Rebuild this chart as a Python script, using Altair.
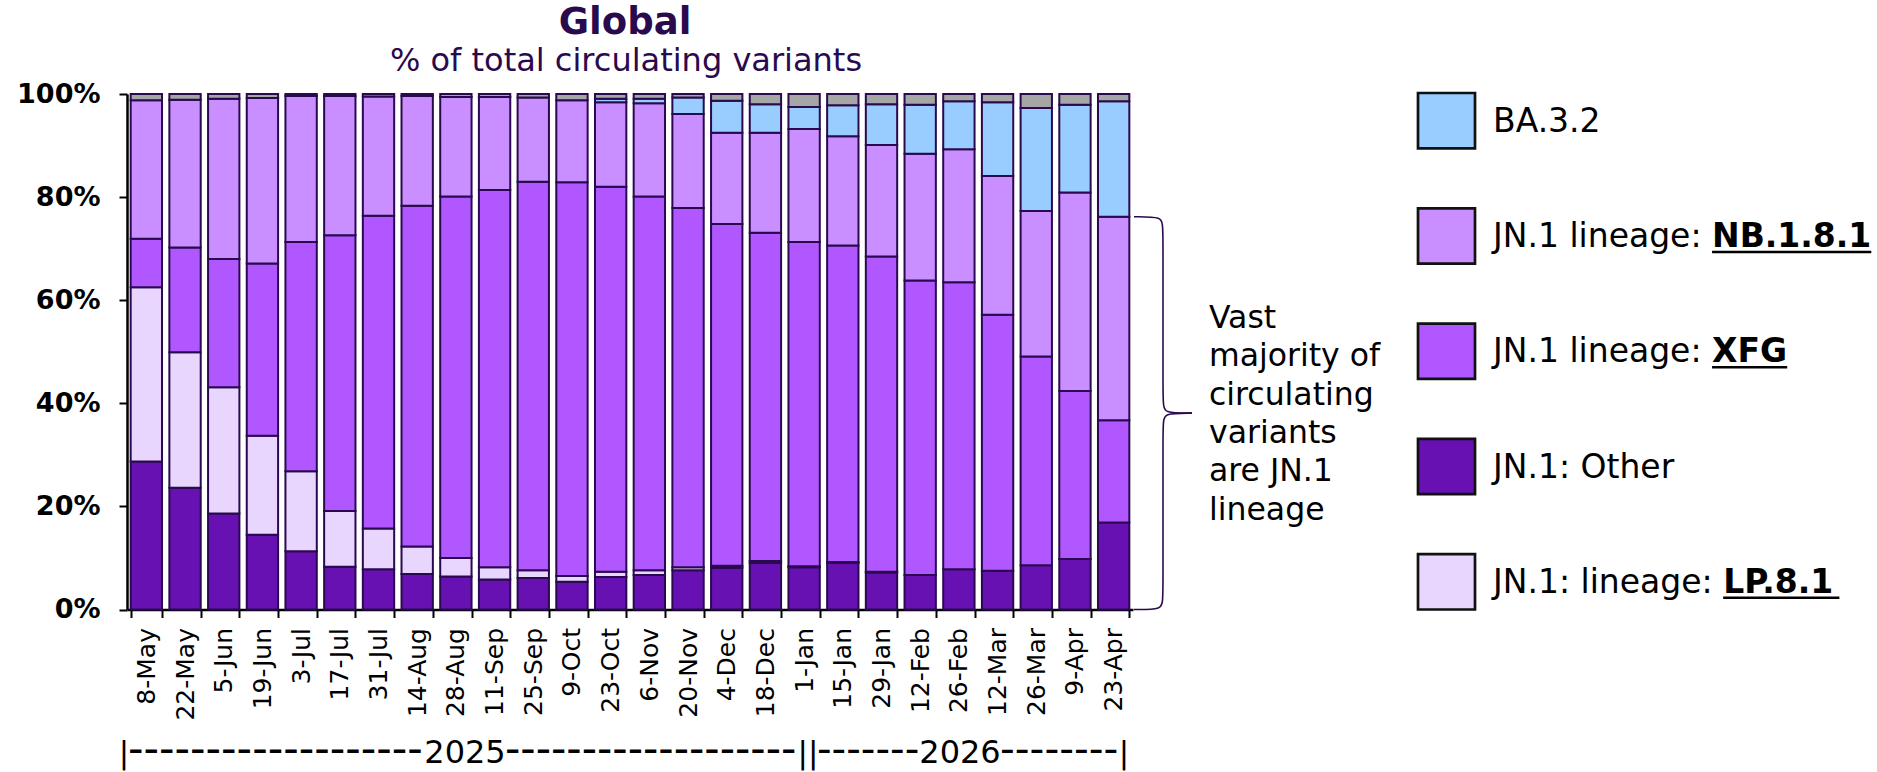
import altair as alt
import pandas as pd

# ---------------------------------------------------------------- data
dates = ["8-May", "22-May", "5-Jun", "19-Jun", "3-Jul", "17-Jul", "31-Jul",
         "14-Aug", "28-Aug", "11-Sep", "25-Sep", "9-Oct", "23-Oct", "6-Nov",
         "20-Nov", "4-Dec", "18-Dec", "1-Jan", "15-Jan", "29-Jan", "12-Feb",
         "26-Feb", "12-Mar", "26-Mar", "9-Apr", "23-Apr"]

# share of circulating variants (%), listed from the bottom of each stack up
jn1_other = [28.7, 23.6, 18.6, 14.5, 11.3, 8.3, 7.8, 6.9, 6.4, 5.8, 6.1, 5.4, 6.3,
             6.7, 7.6, 8.1, 9.0, 8.2, 9.0, 7.2, 6.7, 7.8, 7.5, 8.6, 9.8, 16.9]
lp_8_1 = [33.8, 26.3, 24.5, 19.2, 15.5, 10.8, 7.9, 5.3, 3.6, 2.4, 1.5, 1.1, 1.0,
          0.9, 0.6, 0.4, 0.4, 0.2, 0.2, 0.1, 0.0, 0.0, 0.0, 0.0, 0.0, 0.0]
xfg = [9.4, 20.3, 24.9, 33.4, 44.5, 53.5, 60.7, 66.1, 70.1, 73.2, 75.4, 76.4, 74.7,
       72.5, 69.7, 66.3, 63.7, 62.9, 61.4, 61.2, 57.1, 55.7, 49.7, 40.5, 32.6, 19.8]
nb_1_8_1 = [26.9, 28.7, 31.1, 32.1, 28.3, 27.0, 23.1, 21.3, 19.3, 18.0, 16.3, 15.9,
            16.4, 18.1, 18.2, 17.7, 19.4, 21.9, 21.2, 21.6, 24.6, 25.8, 26.9, 28.2,
            38.5, 39.5]
ba_3_2 = [0.0, 0.0, 0.0, 0.0, 0.0, 0.0, 0.0, 0.0, 0.0, 0.0, 0.0, 0.0, 0.7, 0.9,
          3.2, 6.2, 5.5, 4.3, 6.0, 7.9, 9.5, 9.3, 14.3, 20.0, 17.0, 22.4]
other = [1.2, 1.1, 0.9, 0.8, 0.4, 0.4, 0.5, 0.4, 0.6, 0.6, 0.7, 1.2, 0.9, 0.9, 0.7,
         1.3, 2.0, 2.5, 2.2, 2.0, 2.1, 1.4, 1.6, 2.7, 2.1, 1.4]

series_names = ["JN.1: Other", "JN.1: lineage: LP.8.1", "JN.1 lineage: XFG",
                "JN.1 lineage: NB.1.8.1", "BA.3.2", "Other"]
series_values = [jn1_other, lp_8_1, xfg, nb_1_8_1, ba_3_2, other]
series_colors = ["#6711b3", "#e8d6ff", "#b057ff", "#c98eff", "#99ccff", "#a6a6a6"]

legend_items = ["BA.3.2", "JN.1 lineage: NB.1.8.1", "JN.1 lineage: XFG",
                "JN.1: Other", "JN.1: lineage: LP.8.1"]
legend_plain = ["BA.3.2", "JN.1 lineage: ", "JN.1 lineage: ", "JN.1: Other",
                "JN.1: lineage: "]
legend_bold = ["", "NB.1.8.1", "XFG", "", "LP.8.1"]

note_lines = ["Vast", "majority of", "circulating", "variants", "are JN.1", "lineage"]

# ---------------------------------------------------------------- layout
LEFT, TOP = 127, 94          # plot origin inside the 1877 x 772 page
PLOT_W, PLOT_H = 1750, 515.5
BAR_SPAN = 1006              # horizontal extent of the category axis
INK = "#2a0a4e"
FONT = "DejaVu Sans"
LEG_SIZE = 33

# advance widths (em) of DejaVu Sans, used to place the bold part of a legend label
REG_W = {"J": 0.295, "N": 0.748, ".": 0.318, "1": 0.636, " ": 0.318, "l": 0.278,
         "i": 0.278, "n": 0.634, "e": 0.615, "a": 0.613, "g": 0.635, ":": 0.337}
BOLD_W = {"N": 0.837, "B": 0.760, ".": 0.380, "1": 0.696, "8": 0.696, "X": 0.774,
          "F": 0.683, "G": 0.821, "L": 0.637, "P": 0.733}


def text_width(s, table, size):
    return sum(table.get(c, 0.6) for c in s) * size


# ---------------------------------------------------------------- tables
rows = []
for rank, (name, vals) in enumerate(zip(series_names, series_values)):
    for d, v in zip(dates, vals):
        if v > 0:
            rows.append({"date": d, "series": name, "value": v, "rank": rank})
bars_df = pd.DataFrame(rows)

color_scale = alt.Scale(domain=series_names, range=series_colors)

LEG_X = 1291
TXT_X = LEG_X + 75
leg_rows = []
for item, plain, bold in zip(legend_items, legend_plain, legend_bold):
    bx = TXT_X + text_width(plain, REG_W, LEG_SIZE)
    leg_rows.append({"series": item, "plain": plain, "bold": bold, "bx": bx,
                     "bx2": bx + text_width(bold, BOLD_W, LEG_SIZE)})
leg_df = pd.DataFrame(leg_rows)

# curly brace spanning the JN.1 lineage total of the latest week
jn1_total = jn1_other[-1] + lp_8_1[-1] + xfg[-1] + nb_1_8_1[-1]
mid = jn1_total / 2
r = 1.8
x0, x1, x2 = 1007, 1036, 1065
brace_pts = [
    (0, x0, jn1_total), (0, x1, jn1_total), (0, x1, jn1_total - r),
    (0, x1, mid + r), (0, x1, mid), (0, x2, mid),
    (1, x2, mid), (1, x1, mid), (1, x1, mid - r),
    (1, x1, r), (1, x1, 0.0), (1, x0, 0.0),
]
brace_df = pd.DataFrame([{"half": h, "px": px, "v": v, "seq": i}
                         for i, (h, px, v) in enumerate(brace_pts)])

one = pd.DataFrame({"k": [0]})

# ---------------------------------------------------------------- bars
bars = alt.Chart(bars_df).mark_bar(stroke=INK, strokeWidth=2).encode(
    x=alt.X("date:N", sort=dates,
            scale=alt.Scale(range=[0, BAR_SPAN], paddingInner=0.19, paddingOuter=0.095),
            axis=alt.Axis(title=None, labelAngle=-90, labelFontSize=25, labelFont=FONT,
                          labelColor="black", labelPadding=10, tickBand="extent",
                          tickSize=8, tickWidth=2, tickColor="black",
                          domainColor="black", domainWidth=2.5, grid=False,
                          labelOverlap=False)),
    y=alt.Y("value:Q", stack="zero", scale=alt.Scale(domain=[0, 100], nice=False),
            axis=alt.Axis(title=None, values=[0, 20, 40, 60, 80, 100],
                          labelExpr="datum.value + '%'", labelFontSize=27,
                          labelFont=FONT, labelFontWeight="bold", labelColor="black",
                          labelPadding=19, tickSize=8, tickWidth=2, tickColor="black",
                          domainColor="black", domainWidth=2.5, grid=False)),
    color=alt.Color("series:N", scale=color_scale, legend=None),
    order=alt.Order("rank:Q", sort="ascending"),
)

# ---------------------------------------------------------------- brace
brace = alt.Chart(brace_df).mark_line(interpolate="basis", stroke=INK,
                                      strokeWidth=1.6).encode(
    x=alt.X("px:Q", scale=None, axis=None),
    y=alt.Y("v:Q", scale=alt.Scale(domain=[0, 100], nice=False), axis=None),
    detail="half:N",
    order="seq:Q",
)

# ---------------------------------------------------------------- legend
leg_y = alt.Y("series:N", sort=legend_items,
              scale=alt.Scale(domain=legend_items, range=[-1, 515.5],
                              paddingInner=0.52, paddingOuter=0),
              axis=None)
leg_boxes = alt.Chart(leg_df).mark_rect(stroke="#111111", strokeWidth=2.7).encode(
    x=alt.value(LEG_X), x2=alt.value(LEG_X + 57), y=leg_y,
    color=alt.Color("series:N", scale=color_scale, legend=None),
)
leg_plain = alt.Chart(leg_df).mark_text(
    align="left", baseline="alphabetic", dy=11, font=FONT, fontSize=LEG_SIZE,
    color="black").encode(x=alt.value(TXT_X), y=leg_y, text="plain:N")
bold_df = leg_df[leg_df["bold"] != ""]
leg_bold = alt.Chart(bold_df).mark_text(
    align="left", baseline="alphabetic", dy=11, font=FONT, fontSize=LEG_SIZE,
    fontWeight="bold", color="black").encode(
    x=alt.X("bx:Q", scale=None, axis=None), y=leg_y, text="bold:N")
leg_under = alt.Chart(bold_df).mark_rule(color="black", strokeWidth=2.5,
                                         yOffset=16).encode(
    x=alt.X("bx:Q", scale=None, axis=None), x2="bx2:Q", y=leg_y)
legend = alt.layer(leg_boxes, leg_plain, leg_bold, leg_under)

# ---------------------------------------------------------------- texts
def label(text, x, y, size, weight="normal", align="center", color="black",
          font=FONT, **kw):
    return alt.Chart(one).mark_text(
        text=text, align=align, baseline="alphabetic", font=font, fontSize=size,
        fontWeight=weight, color=color, **kw).encode(x=alt.value(x), y=alt.value(y))


title = label("Global", 498, -60, 37, weight="bold", color=INK)
subtitle = label("% of total circulating variants", 499, -23, 32, color=INK)
note = label(note_lines, 1082, 234, 31.5, align="left", lineHeight=38.3)

# year band under the date labels; hyphen runs use a larger size so they
# stretch across the same width as the year they frame
YEAR_Y = 669
year_parts = [
    label("|", -3, YEAR_Y, 31),
    label("-" * 19, 1, YEAR_Y, 43, align="left"),
    label("2025", 338, YEAR_Y, 32),
    label("-" * 19, 378, YEAR_Y, 42.5, align="left"),
    label("||", 681, YEAR_Y, 31),
    label("-" * 7, 690, YEAR_Y, 40.5, align="left"),
    label("2026", 833, YEAR_Y, 32),
    label("-" * 8, 873, YEAR_Y, 41, align="left"),
    label("|", 997, YEAR_Y, 31),
]

texts = alt.layer(title, subtitle, note, *year_parts)

chart = alt.layer(bars, brace, legend, texts).resolve_scale(
    x="independent", y="independent"
).properties(
    width=PLOT_W, height=PLOT_H,
    padding={"left": LEFT, "top": TOP, "right": 0, "bottom": 772 - TOP - PLOT_H},
    autosize=alt.AutoSizeParams(type="none"),
).configure(
    font=FONT, background="white"
).configure_view(stroke="transparent", strokeWidth=0)

chart.save("out.html", embed_options={"renderer": "svg", "actions": False})
